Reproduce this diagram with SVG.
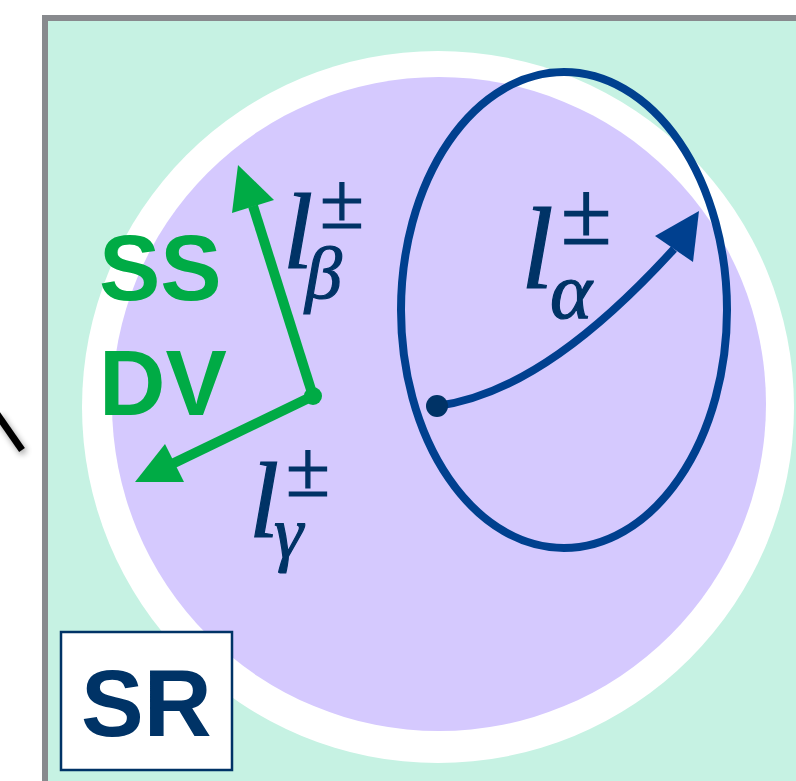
<svg xmlns="http://www.w3.org/2000/svg" width="796" height="781" viewBox="0 0 796 781">
<defs>
<filter id="sh" x="-50%" y="-50%" width="200%" height="200%"><feGaussianBlur in="SourceAlpha" stdDeviation="3"/><feOffset dx="2" dy="3"/><feComponentTransfer><feFuncA type="linear" slope="0.4"/></feComponentTransfer><feMerge><feMergeNode/><feMergeNode in="SourceGraphic"/></feMerge></filter>
</defs>
<style>
.sans{font-family:"Liberation Sans",Arial,sans-serif;font-weight:bold}
.lab{font-family:"Liberation Serif","Times New Roman",serif;fill:#003366;stroke:#003366;stroke-width:1.2}
.it{font-style:italic}
.green{fill:#00ab45}
.gline{stroke:#00ab45;stroke-width:10;fill:none}
.bline{stroke:#00408f;stroke-width:8;fill:none}
</style>
<rect width="796" height="781" fill="#ffffff"/>
<line x1="-3" y1="414" x2="22" y2="450" stroke="#000" stroke-width="7" filter="url(#sh)"/>
<g id="region">
<rect x="45" y="18" width="800" height="800" fill="#c6f2e3" stroke="#888a8e" stroke-width="6"/>
</g>
<g id="outer-circle"><circle cx="438" cy="407" r="356" fill="#ffffff"/></g>
<g id="inner-circle"><circle cx="439" cy="404" r="327" fill="#d5c9fe"/></g>
<g id="ellipse-alpha"><ellipse cx="564" cy="310" rx="163" ry="238" class="bline"/></g>
<g id="connectors">
<line x1="313" y1="396" x2="253" y2="206" class="gline"/>
<polygon points="238,165 232,213 274,200" class="green"/>
<line x1="313" y1="396" x2="172" y2="464" class="gline"/>
<polygon points="135,482 184,482 165,444" class="green"/>
<path d="M437,406 C520,395 600,330 674,249" class="bline"/>
<polygon points="699,211 655,236 693,262" fill="#00408f"/>
</g>
<g id="origin-green"><circle cx="313" cy="396" r="9" class="green"/></g>
<g id="origin-blue"><circle cx="437" cy="406" r="11" fill="#003366"/></g>
<g id="label-ss-dv">
<text x="99" y="300" font-size="92" class="sans green">SS</text>
<text x="99" y="415" font-size="92" class="sans green">DV</text>
</g>
<g id="label-beta">
<text class="lab"><tspan x="283" y="268" font-size="108" class="it">l</tspan><tspan x="320" y="228" font-size="80">±</tspan><tspan x="305" y="298" font-size="74" class="it">β</tspan></text>
</g>
<g id="label-gamma">
<text class="lab"><tspan x="249" y="537" font-size="108" class="it">l</tspan><tspan x="286" y="496" font-size="80">±</tspan><tspan x="274" y="557" font-size="74" class="it">γ</tspan></text>
</g>
<g id="label-alpha">
<text class="lab"><tspan x="521" y="288" font-size="117" class="it">l</tspan><tspan x="561" y="244" font-size="92">±</tspan><tspan x="550" y="318" font-size="80" class="it">α</tspan></text>
</g>
<g id="sr-box">
<rect x="61" y="632" width="171" height="138" fill="#ffffff" stroke="#003366" stroke-width="2.5"/>
<text x="81" y="736" font-size="94" class="sans" fill="#003366">SR</text>
</g>
</svg>
